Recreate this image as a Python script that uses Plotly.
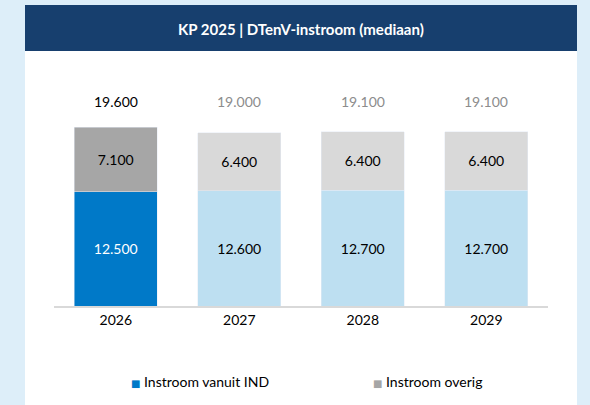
import plotly.graph_objects as go

categories = ["2026", "2027", "2028", "2029"]
instroom_ind = [12500, 12600, 12700, 12700]
instroom_overig = [7100, 6400, 6400, 6400]
totals = [19600, 19000, 19100, 19100]

title_text = "KP 2025 | DTenV-instroom (mediaan)"
series_names = ["Instroom vanuit IND", "Instroom overig"]

ind_colors = ["#0079c8", "#bddff1", "#bddff1", "#bddff1"]
overig_colors = ["#a6a6a6", "#d9d9d9", "#d9d9d9", "#d9d9d9"]
ind_text_colors = ["#ffffff", "#000000", "#000000", "#000000"]
total_colors = ["#000000", "#8c8c8c", "#8c8c8c", "#8c8c8c"]
legend_colors = ["#0079c8", "#a6a6a6"]

FONT = "Lato"


def nl(v):
    return f"{v:,.0f}".replace(",", ".")


fig = go.Figure()
fig.add_trace(go.Bar(
    x=categories, y=instroom_ind, name=series_names[0],
    marker=dict(color=ind_colors),
    text=[nl(v) for v in instroom_ind], textposition="inside", insidetextanchor="middle",
    textangle=0, textfont=dict(family=FONT, size=14, color=ind_text_colors),
    hoverinfo="skip", showlegend=False,
))
fig.add_trace(go.Bar(
    x=categories, y=instroom_overig, name=series_names[1],
    marker=dict(color=overig_colors),
    text=[nl(v) for v in instroom_overig], textposition="inside", insidetextanchor="middle",
    textangle=0, textfont=dict(family=FONT, size=14, color="#000000"),
    hoverinfo="skip", showlegend=False,
))

# totals above the stacks, aligned on the tallest stack (x = category index)
top = max(totals)
for i, (t, col) in enumerate(zip(totals, total_colors)):
    fig.add_annotation(x=i, y=top, xref="x", yref="y", text=nl(t),
                       showarrow=False, yanchor="bottom", yshift=15,
                       font=dict(family=FONT, size=14, color=col))

# white panel and dark-blue header
fig.add_shape(type="rect", xref="paper", yref="paper", x0=-0.0587, x1=1.0587,
              y0=-0.45, y1=1.303, fillcolor="#ffffff", line=dict(width=0), layer="below")
fig.add_shape(type="rect", xref="paper", yref="paper", x0=-0.0587, x1=1.0587,
              y0=1.104, y1=1.303, fillcolor="#173f6e", line=dict(width=0), layer="below")
fig.add_annotation(xref="paper", yref="paper", x=0.5, y=1.199, text=f"<b>{title_text}</b>",
                   showarrow=False, xanchor="center", yanchor="middle",
                   font=dict(family=FONT, size=15, color="#ffffff"))

# legend entries
for lx, name, col in zip([0.152, 0.642], series_names, legend_colors):
    fig.add_annotation(
        xref="paper", yref="paper", x=lx, y=-0.325, xanchor="left", yanchor="middle",
        showarrow=False,
        text=f"<span style='color:{col};font-size:10px;font-family:DejaVu Sans'>■</span> {name}",
        font=dict(family=FONT, size=14, color="#000000"))

fig.update_layout(
    width=590, height=405,
    margin=dict(l=54, r=42, t=75, b=99, pad=0),
    barmode="stack", bargap=0.327,
    paper_bgcolor="#ddeef9", plot_bgcolor="#ffffff",
    font=dict(family=FONT, size=14, color="#000000"),
    showlegend=False,
    xaxis=dict(type="category", showgrid=False, showline=True, linecolor="#d9d9d9",
               linewidth=2, ticks="", tickfont=dict(family=FONT, size=14, color="#000000")),
    yaxis=dict(range=[0, 25300], visible=False),
    hovermode=False,
)

fig.write_html("out.html", config={"displayModeBar": False, "staticPlot": True},
               post_script="document.body.style.margin='0';")
